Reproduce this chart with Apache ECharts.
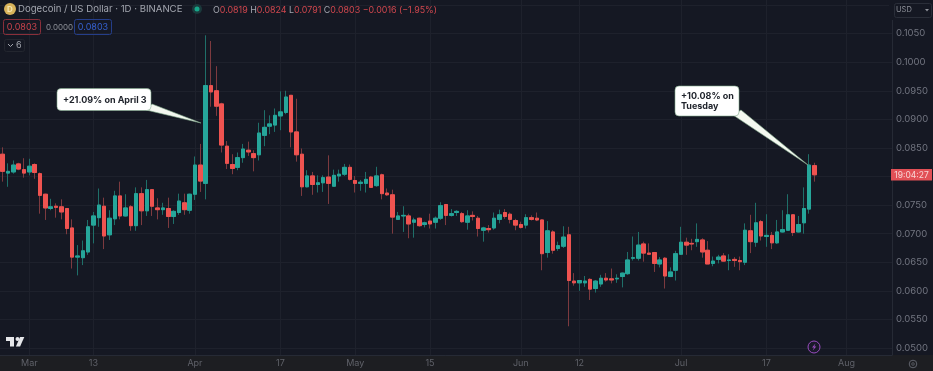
<!DOCTYPE html>
<html>
<head>
<meta charset="utf-8">
<style>
html,body{margin:0;padding:0;background:#151823}
#c{width:933px;height:371px;background:linear-gradient(to bottom,#151823 0,#151823 355px,#1d1e22 355px,#1d1e22 371px);filter:blur(0.5px)}
</style>
<script src="https://cdn.jsdelivr.net/npm/echarts@6/dist/echarts.min.js"></script>
</head>
<body>
<div id="c"></div>
<script>
// Prices in ten-thousandths of a dollar (0.0839 -> 839), daily candles from Feb 24
const firstDay = [2023, 1, 24];
const totalSlots = 167;
const opens = [839,806,808,822,812,808,821,805,769,744,
748,747,744,710,659,658,668,715,728,748,
698,726,766,731,747,714,770,740,777,745,
742,744,730,737,754,741,769,820,788,959,
950,927,853,821,816,833,846,840,838,872,
888,890,906,912,942,878,839,782,801,786,
789,799,783,801,804,816,793,788,788,799,
784,803,771,768,725,731,731,720,727,716,
722,720,727,751,732,737,735,720,732,727,
706,709,710,725,737,734,723,716,715,728,
727,724,667,703,674,678,698,617,614,614,
620,604,612,622,621,621,625,630,657,657,
682,666,667,647,657,625,636,664,685,683,
686,689,671,648,655,661,653,655,653,650,
705,685,721,695,697,684,703,706,733,703,
719,743,819];
const closes = [809,809,820,813,806,818,807,767,745,747,
746,738,709,659,661,670,712,731,750,696,
727,766,731,745,714,770,740,777,748,742,
745,730,739,757,742,769,820,792,959,948,
923,855,823,814,833,848,843,833,876,886,
892,907,913,939,878,838,782,801,786,789,
798,788,802,804,816,795,788,790,795,781,
801,770,768,729,731,732,717,724,714,719,
717,727,749,732,735,739,721,731,730,709,
710,707,727,733,730,725,715,711,728,725,
724,665,705,671,679,694,618,614,618,617,
603,617,622,619,619,622,631,654,658,680,
666,664,648,654,626,633,665,685,680,682,
690,668,647,652,659,652,654,653,651,706,
686,719,696,697,684,703,707,733,702,716,
744,820,803];
const lows = [791,782,805,811,798,802,796,735,724,741,
728,725,699,639,627,645,663,683,712,673,
689,715,725,730,705,705,715,731,731,725,
733,710,717,733,733,735,759,773,760,922,
906,842,813,804,811,824,836,809,828,853,
874,878,881,909,851,826,766,781,768,772,
773,752,782,791,801,793,772,775,772,780,
782,760,766,700,724,703,692,693,712,711,
709,709,724,715,730,731,719,707,723,695,
686,702,707,718,726,718,706,709,709,723,
722,636,658,665,670,675,538,609,600,607,
584,597,607,616,613,614,606,628,653,653,
651,663,633,641,604,624,618,663,663,671,
677,658,647,643,648,651,636,642,636,645,
666,677,688,677,673,682,702,705,696,702,
700,735,791];
const highs = [851,823,828,824,832,831,823,807,770,761,
753,760,745,725,680,688,724,738,779,763,
741,775,791,769,750,781,781,794,777,762,
754,763,741,770,770,770,835,857,1047,1037,
993,929,862,839,842,857,861,846,894,916,
907,919,949,950,942,936,849,811,808,802,
802,837,812,812,822,821,801,794,808,801,
817,805,779,777,738,748,735,728,728,721,
735,730,755,752,743,741,738,741,739,731,
712,715,737,742,743,737,726,721,734,732,
737,725,722,706,686,713,712,631,619,626,
622,619,628,631,639,629,632,668,695,703,
686,683,668,659,659,641,670,712,693,691,
718,692,687,660,663,666,664,659,660,718,
733,754,724,734,703,724,741,769,734,731,
781,839,824];
const dateTicks = {"2-1":"Mar","2-13":"13","3-1":"Apr","3-17":"17","4-1":"May","4-15":"15","5-1":"Jun","5-12":"12","6-1":"Jul","6-17":"17","7-1":"Aug"};

const BG = '#151823', UP = '#26a69a', DOWN = '#ef5350', GRIDC = '#1e212c', AXT = '#727580', XT = '#5f6169';
const FONT = 'Inter, Roboto, sans-serif';

const categories = [];
for (let i = 0; i < totalSlots; i++) {
  const d = new Date(firstDay[0], firstDay[1], firstDay[2] + i);
  categories.push(d.getMonth() + '-' + d.getDate());
}
const showTick = (i, v) => dateTicks[v] !== undefined;
const full = opens.map((o, i) => [o, closes[i], lows[i], highs[i]]);
const bodies = opens.map((o, i) => [o, closes[i], Math.min(o, closes[i]), Math.max(o, closes[i])]);

const gText = (x, y, text, fill, size, extra) => ({type:'text', z:20, silent:true, x, y,
  style:Object.assign({text, fill, font:(extra&&extra.weight||'normal')+' '+size+'px '+FONT, textVerticalAlign:'middle', textAlign:(extra&&extra.align)||'left', lineHeight:size+1}, extra&&extra.style)});
const gBox = (x, y, w, h, stroke, fill) => ({type:'rect', z:19, silent:true, shape:{x, y, width:w, height:h, r:2}, style:{stroke, fill:fill||'transparent', lineWidth:1}});

const chart = echarts.init(document.getElementById('c'), null, {renderer:'canvas', width:933, height:371});
chart.setOption({
  animation:false,
  backgroundColor:'transparent',
  grid:[
    {left:0, top:0, width:892, height:355},
    {left:0, top:5, width:892, height:343}
  ],
  xAxis:[
    {type:'category', gridIndex:0, data:categories, axisTick:{show:false},
     axisLine:{show:true, lineStyle:{color:'#262a35', width:1}},
     axisLabel:{interval:showTick, formatter:v => dateTicks[v] || '', color:XT, fontSize:9, fontFamily:FONT, margin:4},
     splitLine:{show:true, interval:showTick, alignWithLabel:true, lineStyle:{color:GRIDC, width:1}}},
    {type:'category', gridIndex:1, data:categories, show:false}
  ],
  yAxis:[
    {type:'value', gridIndex:0, min:0, max:1, position:'right', splitLine:{show:false}, axisTick:{show:false}, axisLabel:{show:false},
     axisLine:{show:true, lineStyle:{color:'#262a35', width:1}}},
    {type:'value', gridIndex:1, min:500, max:1100, interval:50, position:'right',
     axisLine:{show:false}, axisTick:{show:false},
     axisLabel:{margin:4, color:AXT, fontSize:9.5, fontFamily:FONT,
       formatter:v => v >= 1100 ? '' : (v / 10000).toFixed(4)},
     splitLine:{show:true, lineStyle:{color:GRIDC, width:1}}}
  ],
  series:[
    {type:'candlestick', xAxisIndex:1, yAxisIndex:1, barWidth:4, data:full, silent:true,
     itemStyle:{color:'#1f6f69', color0:'#7d3a3f', borderColor:'#1f6f69', borderColor0:'#7d3a3f', borderWidth:1}},
    {type:'candlestick', xAxisIndex:1, yAxisIndex:1, barWidth:4, data:bodies, silent:true,
     itemStyle:{color:UP, color0:DOWN, borderColor:UP, borderColor0:DOWN, borderWidth:1}}
  ],
  graphic:[
    {type:'rect', z:18, silent:true, shape:{x:889, y:0, width:6, height:20}, style:{fill:BG}},
    // header
    {type:'circle', z:19, silent:true, shape:{cx:10, cy:9, r:6}, style:{fill:'#d8b35a'}},
    gText(10, 9.5, 'D', '#f4e4b0', 8, {weight:'bold', align:'center'}),
    gText(18, 9.5, 'Dogecoin / US Dollar · 1D · BINANCE', '#a3a6af', 9.6),
    {type:'circle', z:19, silent:true, shape:{cx:197, cy:9, r:5}, style:{fill:'#1b3a3c'}},
    {type:'circle', z:20, silent:true, shape:{cx:197, cy:9, r:2.5}, style:{fill:'#17a589'}},
    gText(213, 10, '{g|O}{r|0.0819} {g|H}{r|0.0824} {g|L}{r|0.0791} {g|C}{r|0.0803} {r|−0.0016 (−1.95%)}', '#a3a6af', 8.9,
      {style:{rich:{g:{fill:'#a3a6af', fontSize:8.9, fontFamily:FONT}, r:{fill:'#d0474e', fontSize:8.9, fontFamily:FONT}}}}),
    gBox(3.5, 19.5, 37, 15, '#8a2f3a'),
    gText(22, 27.5, '0.0803', '#c8434c', 9, {align:'center'}),
    gText(46, 27.5, '0.0000', '#8d9098', 8),
    gBox(74.5, 19.5, 37, 15, '#253e8a'),
    gText(93, 27.5, '0.0803', '#3560d0', 9, {align:'center'}),
    gBox(4.5, 39.5, 20, 12, '#23262f'),
    {type:'polyline', z:20, silent:true, shape:{points:[[8,44],[10.5,46.5],[13,44]]}, style:{stroke:'#a3a6af', fill:'none', lineWidth:1}},
    gText(16, 45.5, '6', '#a3a6af', 9),
    // USD selector
    gBox(894.5, 3.5, 37, 14, '#2a2e39'),
    gText(896, 10, 'USD', '#8d9098', 7.5),
    {type:'polygon', z:20, silent:true, shape:{points:[[925,9],[929,9],[927,11.5]]}, style:{fill:'#8d9098'}},
    // April 3 callout
    {type:'polygon', z:19, silent:true, shape:{points:[[146,110],[152,104],[201,123]]}, style:{fill:'#f4f8f0', stroke:'#7fa88a', lineWidth:0.6}},
    {type:'rect', z:20, silent:true, shape:{x:57, y:88.5, width:94, height:22, r:4}, style:{fill:'#ffffff', stroke:'#7fa88a', lineWidth:0.6}},
    gText(63, 100, '+21.09% on April 3', '#20242c', 9, {weight:'bold'}),
    // Tuesday callout
    {type:'polygon', z:19, silent:true, shape:{points:[[733,115],[741,110],[808,165]]}, style:{fill:'#f4f8f0', stroke:'#7fa88a', lineWidth:0.6}},
    {type:'rect', z:20, silent:true, shape:{x:675, y:86, width:64, height:30, r:4}, style:{fill:'#ffffff', stroke:'#7fa88a', lineWidth:0.6}},
    gText(681, 101, '+10.08% on\nTuesday', '#20242c', 9, {weight:'bold'}),
    // price countdown
    {type:'rect', z:19, silent:true, shape:{x:891, y:169, width:41, height:11.5}, style:{fill:'#e25056'}},
    gText(911.5, 175.2, '19:04:27', '#f8d5d5', 8.5, {align:'center'}),
    // TV logo
    {type:'polygon', z:20, silent:true, shape:{points:[[6,337],[14,337],[14,346.5],[10,346.5],[10,341],[6,341]]}, style:{fill:'#e6e7ea'}},
    {type:'polygon', z:20, silent:true, shape:{points:[[24.3,337],[20.1,346.5],[15.9,346.5],[20.1,337]]}, style:{fill:'#e6e7ea'}},
    {type:'circle', z:20, silent:true, shape:{cx:17.5, cy:339, r:2}, style:{fill:'#e6e7ea'}},
    // bolt
    {type:'circle', z:20, silent:true, shape:{cx:814, cy:347, r:6}, style:{fill:'#1a1a2a', stroke:'#9b4dc0', lineWidth:1}},
    {type:'polygon', z:21, silent:true, shape:{points:[[815.5,343.5],[812,347.5],[814,347.5],[812.8,350.5],[816.3,346.5],[814.3,346.5]]}, style:{fill:'#9b4dc0'}},
    // gear
    {type:'circle', z:20, silent:true, shape:{cx:913, cy:364, r:3.8}, style:{fill:'none', stroke:'#60636c', lineWidth:1}},
    {type:'circle', z:20, silent:true, shape:{cx:913, cy:364, r:1.3}, style:{fill:'none', stroke:'#60636c', lineWidth:0.8}}
  ]
});
</script>
</body>
</html>
